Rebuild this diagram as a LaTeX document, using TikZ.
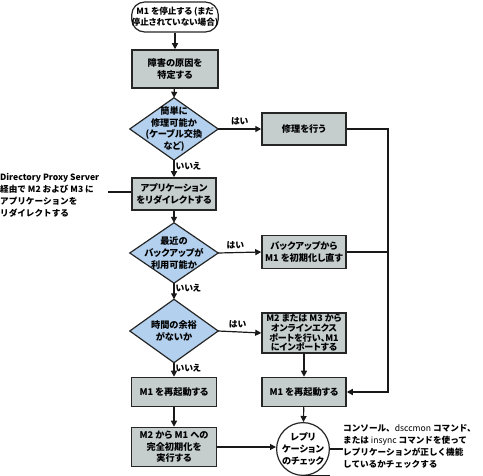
\documentclass[tikz,border=0pt]{standalone}
\usepackage{fontspec}
\setmainfont{Noto Sans CJK JP}[RawFeature=+palt]
\newfontfamily\plainjp{Noto Sans CJK JP}
\usetikzlibrary{arrows.meta,backgrounds,calc}
\definecolor{boxgray}{HTML}{C5CDCD}
\definecolor{diablue}{HTML}{B3D1EE}
\begin{document}
\begin{tikzpicture}[x=1pt,y=-1pt,
  every node/.style={font=\fontsize{9.2}{11.6}\selectfont\bfseries, inner sep=0pt, align=center},
  procbox/.style={draw=black!85, line width=1.5pt, fill=boxgray},
  startbox/.style={draw=black!85, line width=1.2pt, fill=white, rounded corners=13pt},
  decnode/.style={minimum width=88pt, minimum height=62pt},
  decshape/.style={draw=black!85, line width=1.2pt, fill=diablue},
  chkcircle/.style={circle, draw=black!85, line width=1.2pt, fill=white, minimum size=52pt},
  conn/.style={line width=1.2pt, draw=black!90},
  arr/.style={conn, -{Triangle[length=6pt,width=6pt]}},
  lbl/.style={font=\fontsize{8.8}{10}\selectfont\bfseries},
  annot/.style={font=\plainjp\fontsize{8.6}{12}\selectfont\bfseries, align=left}
]
\useasboundingbox (0,0) rectangle (483,476);

% nodes
\node[startbox, minimum width=86pt, minimum height=30pt, font=\fontsize{8.6}{11}\selectfont\bfseries] (start) at (175,17) {M1 を停止する (まだ\\停止されていない場合)};
\node[procbox, minimum width=86pt, minimum height=38pt] (cause) at (175,69) {障害の原因を\\特定する};
\node[decnode] (d1) at (174,129) {簡単に\\修理可能か\\(ケーブル交換\\など)};
\node[procbox, minimum width=84pt, minimum height=32pt] (repair) at (304,129) {修理を行う};
\node[procbox, minimum width=84pt, minimum height=32pt] (redirect) at (174,194) {アプリケーション\\をリダイレクトする};
\node[decnode, minimum height=60pt] (d2) at (174,253) {最近の\\バックアップが\\利用可能か};
\node[procbox, minimum width=84pt, minimum height=33pt] (backup) at (304,252) {バックアップから\\M1 を初期化し直す};
\node[decnode, minimum height=63pt] (d3) at (174,331) {時間の余裕\\がないか};
\node[procbox, minimum width=84pt, minimum height=40pt, font=\fontsize{9}{9.8}\selectfont\bfseries] (export) at (304,333) {M2 または M3 から\\オンラインエクス\\ポートを行い、M1\\にインポートする};
\node[procbox, minimum width=85pt, minimum height=29pt] (restartL) at (174,392) {M1 を再起動する};
\node[procbox, minimum width=84pt, minimum height=29pt] (restartR) at (304,392) {M1 を再起動する};
\node[procbox, minimum width=85pt, minimum height=39pt] (full) at (174,447) {M2 から M1 への\\完全初期化を\\実行する};
\node[chkcircle] (chk) at (303,449) {レプリ\\ケーション\\のチェック};

\node[annot, anchor=west] (annL) at (0,195) {Directory Proxy Server\\経由で M2 および M3 に\\アプリケーションを\\リダイレクトする};
\node[annot, anchor=west] (annR) at (343,446) {コンソール、{\mdseries dsccmon} コマンド、\\または {\mdseries insync} コマンドを使って\\レプリケーションが正しく機能\\しているかチェックする};

% diamond shapes
\begin{scope}[on background layer]
  \foreach \d in {d1,d2,d3}
    \path[decshape] (\d.north) -- (\d.east) -- (\d.south) -- (\d.west) -- cycle;
\end{scope}

% connectors
\draw[arr] (start) -- (cause);
\draw[arr] (cause) -- (d1.north);
\draw[arr] (d1.east) -- node[lbl, above=3pt, pos=0.5] {はい} (repair.west);
\draw[arr] (d1.south) -- node[lbl, right=1pt, pos=0.35] {いいえ} (redirect.north);
\draw[arr] (redirect) -- (d2.north);
\draw[arr] (d2.east) -- node[lbl, above=3pt, pos=0.4] {はい} (backup.west);
\draw[arr] (d2.south) -- node[lbl, right=1pt, pos=0.3] {いいえ} (d3.north);
\draw[arr] (d3.east) -- node[lbl, above=3pt, pos=0.45] {はい} (export.west);
\draw[arr] (d3.south) -- node[lbl, right=1pt, pos=0.4] {いいえ} (restartL.north);
\draw[arr] (export) -- (restartR);
\draw[arr] (restartL) -- (full);
\draw[arr] (restartR) -- (chk);
\draw[arr] (full.east) -- (full.east -| chk.west);

\coordinate (rj) at (388,129);
\draw[arr] (repair.east) -- (rj) |- (restartR.east);
\draw[conn] (backup.east) -- (backup.east -| rj);

\coordinate (aL) at (108,192);
\draw[conn] (aL) -- (aL -| redirect.west);
\draw[conn] (chk.east) -- (annR.west |- chk.east);
\draw[conn] (chk.south) -- (chk.south -| chk.east);
\end{tikzpicture}
\end{document}
